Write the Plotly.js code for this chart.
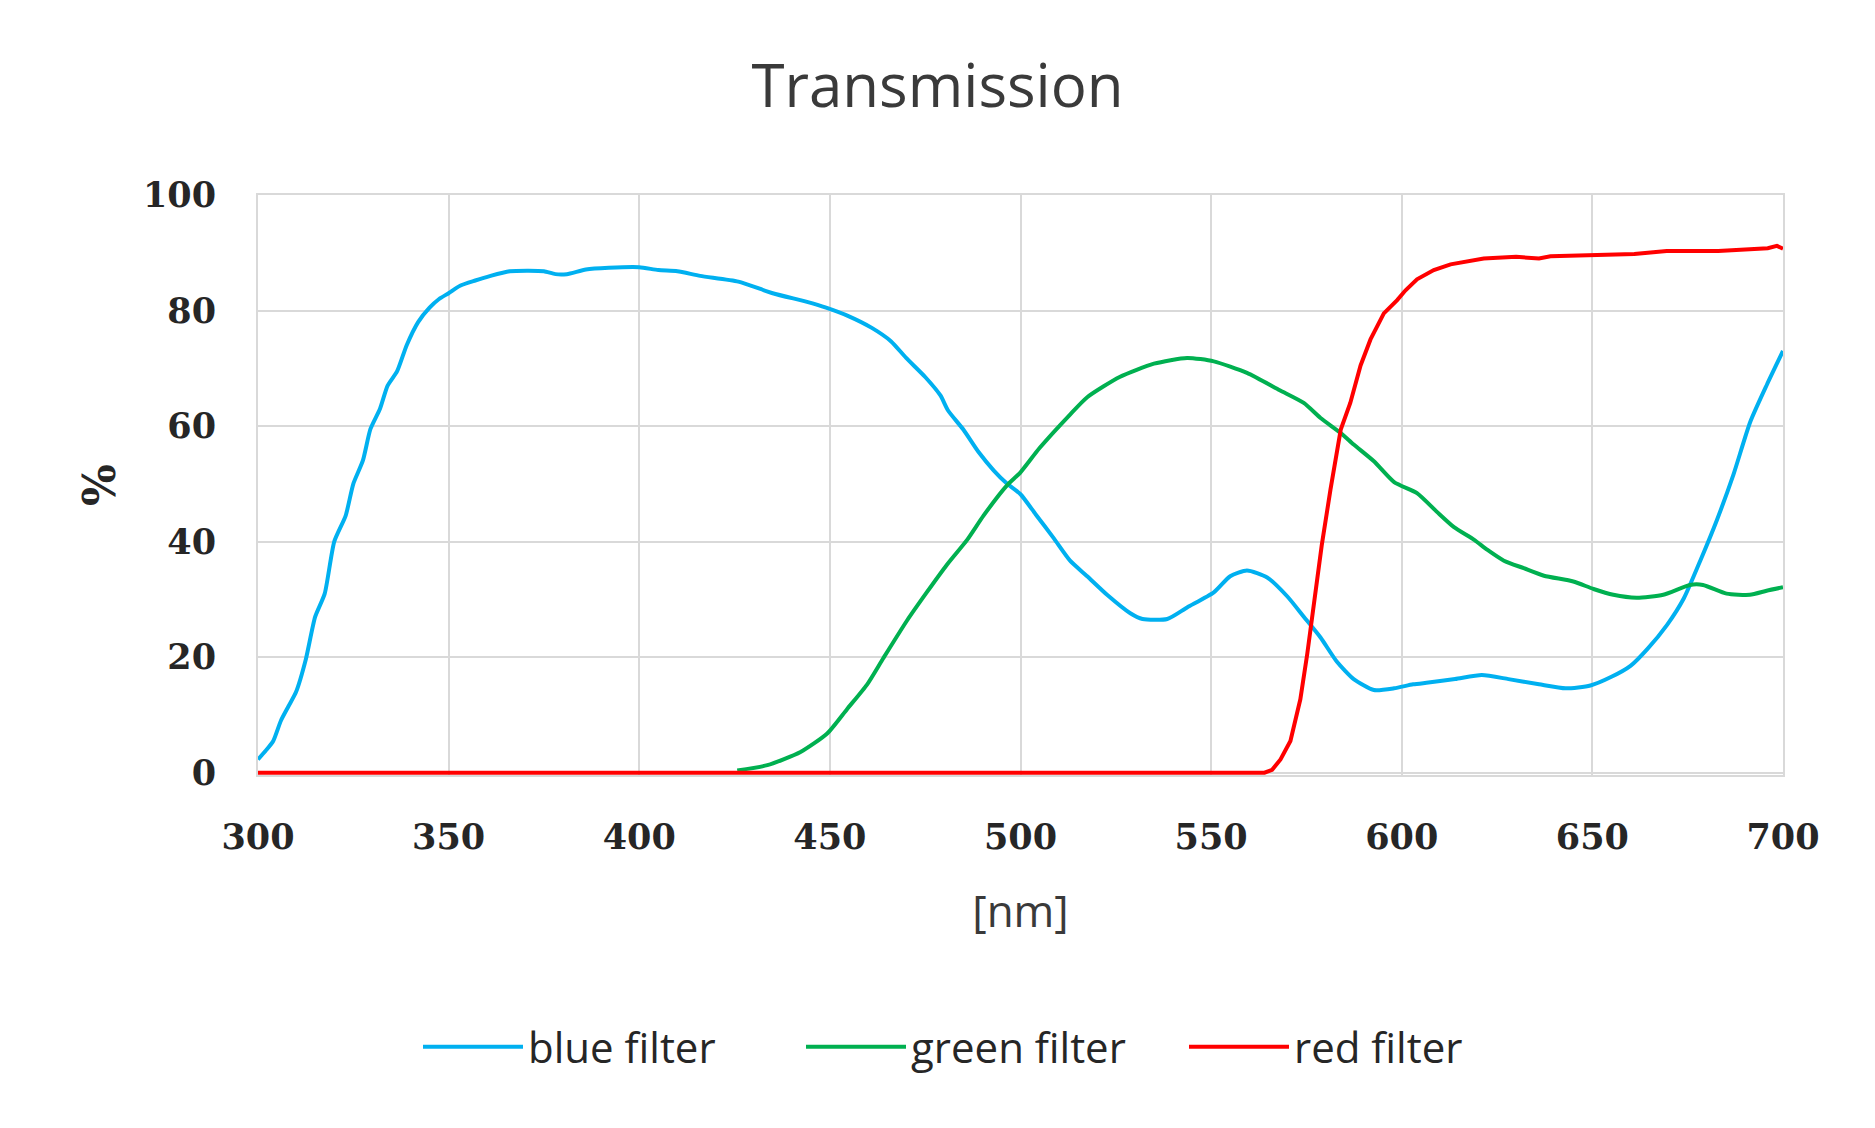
<!DOCTYPE html>
<html>
<head>
<meta charset="utf-8">
<script src="https://cdn.plot.ly/plotly-3.0.1.min.js"></script>
<style>
  html, body { margin: 0; padding: 0; background: #ffffff; }
  #chart { width: 1875px; height: 1128px; }
</style>
</head>
<body>
<div id="chart"></div>
<script>
  // wavelengths [nm] and transmission [%]
  const blueNm = [300, 302, 304, 306, 308, 310, 312.5, 315, 317.5, 320, 323, 325, 327.5, 329.5, 332, 334, 336.5, 339, 342, 345, 347.5, 350, 353, 357, 361, 366, 371, 375, 378, 381, 386, 392, 400, 405, 410, 416, 426, 435, 444, 449, 455, 461, 466, 470, 475, 479, 481, 485, 489, 493, 496.5, 500, 504, 508.7, 513, 517.5, 522.7, 528.8, 532, 538.5, 543.7, 550.7, 555, 559.4, 564.7, 570, 574.3, 578.7, 583, 587.4, 592.7, 598, 603, 607, 614, 621, 628, 636, 643, 649.5, 655, 660, 664.4, 669.6, 674, 678.3, 682.7, 687, 691.4, 695.8, 700];
  const blueT = [2.3, 3.8, 5.5, 9, 11.5, 14, 19.5, 27, 31, 40, 44.5, 50, 54, 59.5, 63, 67, 69.5, 74, 78, 80.5, 82, 83, 84.3, 85.2, 86, 86.8, 86.9, 86.8, 86.3, 86.3, 87.1, 87.4, 87.5, 87, 86.8, 86, 85, 83, 81.5, 80.5, 79, 77, 74.7, 71.8, 68.5, 65.3, 62.7, 59.4, 55.5, 52.3, 50, 48.2, 44.7, 40.6, 36.7, 34, 30.8, 27.6, 26.6, 26.6, 28.6, 31.2, 34, 35, 33.8, 30.5, 27, 23.4, 19.2, 16.2, 14.3, 14.6, 15.3, 15.6, 16.2, 16.9, 16.2, 15.3, 14.6, 15.1, 16.6, 18.5, 21.4, 25.6, 30.2, 36.7, 43.8, 51.6, 60.7, 67.2, 73];

  const greenNm = [425.7, 433.6, 442.3, 449.3, 454.5, 459.8, 464, 470.2, 475.4, 480.7, 486, 490.3, 496.4, 500, 505, 513, 517.5, 526, 535, 543.7, 550.7, 559.4, 568, 574.3, 578.7, 584, 587.4, 592.7, 598, 604, 609.3, 613.7, 619, 622.4, 626.8, 632, 637.3, 645, 650.3, 655.5, 661.6, 668.6, 675.6, 679, 685.2, 691.3, 695.7, 700];
  const greenT = [0.4, 1.3, 3.6, 6.8, 11, 15.3, 19.8, 26.3, 31.2, 36, 40.3, 44.5, 49.7, 52, 56.2, 62, 65, 68.5, 70.8, 71.8, 71.2, 69.2, 66.2, 64, 61.4, 58.8, 56.8, 53.9, 50.3, 48.4, 45.1, 42.5, 40.3, 38.6, 36.7, 35.4, 34.1, 33.1, 31.8, 30.8, 30.3, 30.8, 32.5, 32.5, 31, 30.8, 31.5, 32.1];

  const redNm = [300, 564, 566, 568.2, 570.8, 573.4, 575.2, 576.9, 579, 581.3, 584, 586.5, 589.2, 591.8, 595.3, 598.8, 601, 604, 608.4, 612.8, 621.5, 630, 636, 639, 652, 661, 669.5, 683, 696, 698.4, 700];
  const redT = [0, 0, 0.5, 2.3, 5.5, 12.7, 20.5, 29.5, 39.3, 49, 59.4, 64, 70.5, 75, 79.5, 81.8, 83.5, 85.4, 87, 88, 89, 89.3, 89, 89.4, 89.6, 89.8, 90.3, 90.3, 90.8, 91.2, 90.7];

  const seriesNames = ["blue filter", "green filter", "red filter"];
  const seriesColors = ["#00b0f0", "#00b050", "#ff0000"];

  const gridColor = "#d9d9d9";
  const tickFont = { family: "DejaVu Serif", size: 35, weight: "bold", color: "#262626" };

  function lineTrace(name, x, y, color, shape) {
    return {
      type: "scatter",
      mode: "lines",
      name,
      x,
      y,
      line: { color, width: 4, shape, smoothing: 0.6 },
      hoverinfo: "skip",
    };
  }

  const traces = [
    lineTrace(seriesNames[0], blueNm, blueT, seriesColors[0], "spline"),
    lineTrace(seriesNames[1], greenNm, greenT, seriesColors[1], "spline"),
    // red stays linear so the long flat run sits on the 0 line
    lineTrace(seriesNames[2], redNm, redT, seriesColors[2], "linear"),
  ];

  const layout = {
    width: 1875,
    height: 1128,
    paper_bgcolor: "#ffffff",
    plot_bgcolor: "#ffffff",
    margin: { l: 258, r: 92, t: 195, b: 353 },
    title: {
      text: "Transmission",
      font: { family: "Open Sans", size: 60, color: "#3a3a3a" },
      x: 0.5,
      xref: "container",
      xanchor: "center",
      y: 1 - 86 / 1128,
      yref: "container",
      yanchor: "middle",
    },
    xaxis: {
      range: [300, 700],
      tick0: 300,
      dtick: 50,
      showgrid: true,
      gridcolor: gridColor,
      gridwidth: 2,
      showline: true,
      linecolor: gridColor,
      linewidth: 2,
      mirror: true,
      zeroline: false,
      ticks: "",
      ticklabelstandoff: 30,
      tickfont: tickFont,
      title: {
        text: "[nm]",
        font: { family: "Open Sans", size: 44, color: "#3a3a3a" },
        standoff: 40,
      },
    },
    yaxis: {
      range: [-0.4, 100],
      tick0: 0,
      dtick: 20,
      showgrid: true,
      gridcolor: gridColor,
      gridwidth: 2,
      showline: true,
      linecolor: gridColor,
      linewidth: 2,
      mirror: true,
      zeroline: false,
      ticks: "",
      ticklabelstandoff: 33,
      tickfont: tickFont,
      title: {
        text: "%",
        font: { family: "DejaVu Serif", size: 44, weight: "bold", color: "#262626" },
        standoff: 14,
      },
    },
    showlegend: true,
    legend: {
      orientation: "h",
      xref: "container",
      yref: "container",
      x: 418 / 1875,
      xanchor: "left",
      y: 1 - 1047 / 1128,
      yanchor: "middle",
      itemwidth: 100,
      entrywidth: 268,
      font: { family: "Open Sans", size: 42, color: "#262626" },
    },
  };

  Plotly.newPlot("chart", traces, layout, { displayModeBar: false, responsive: false, staticPlot: true });
</script>
</body>
</html>
